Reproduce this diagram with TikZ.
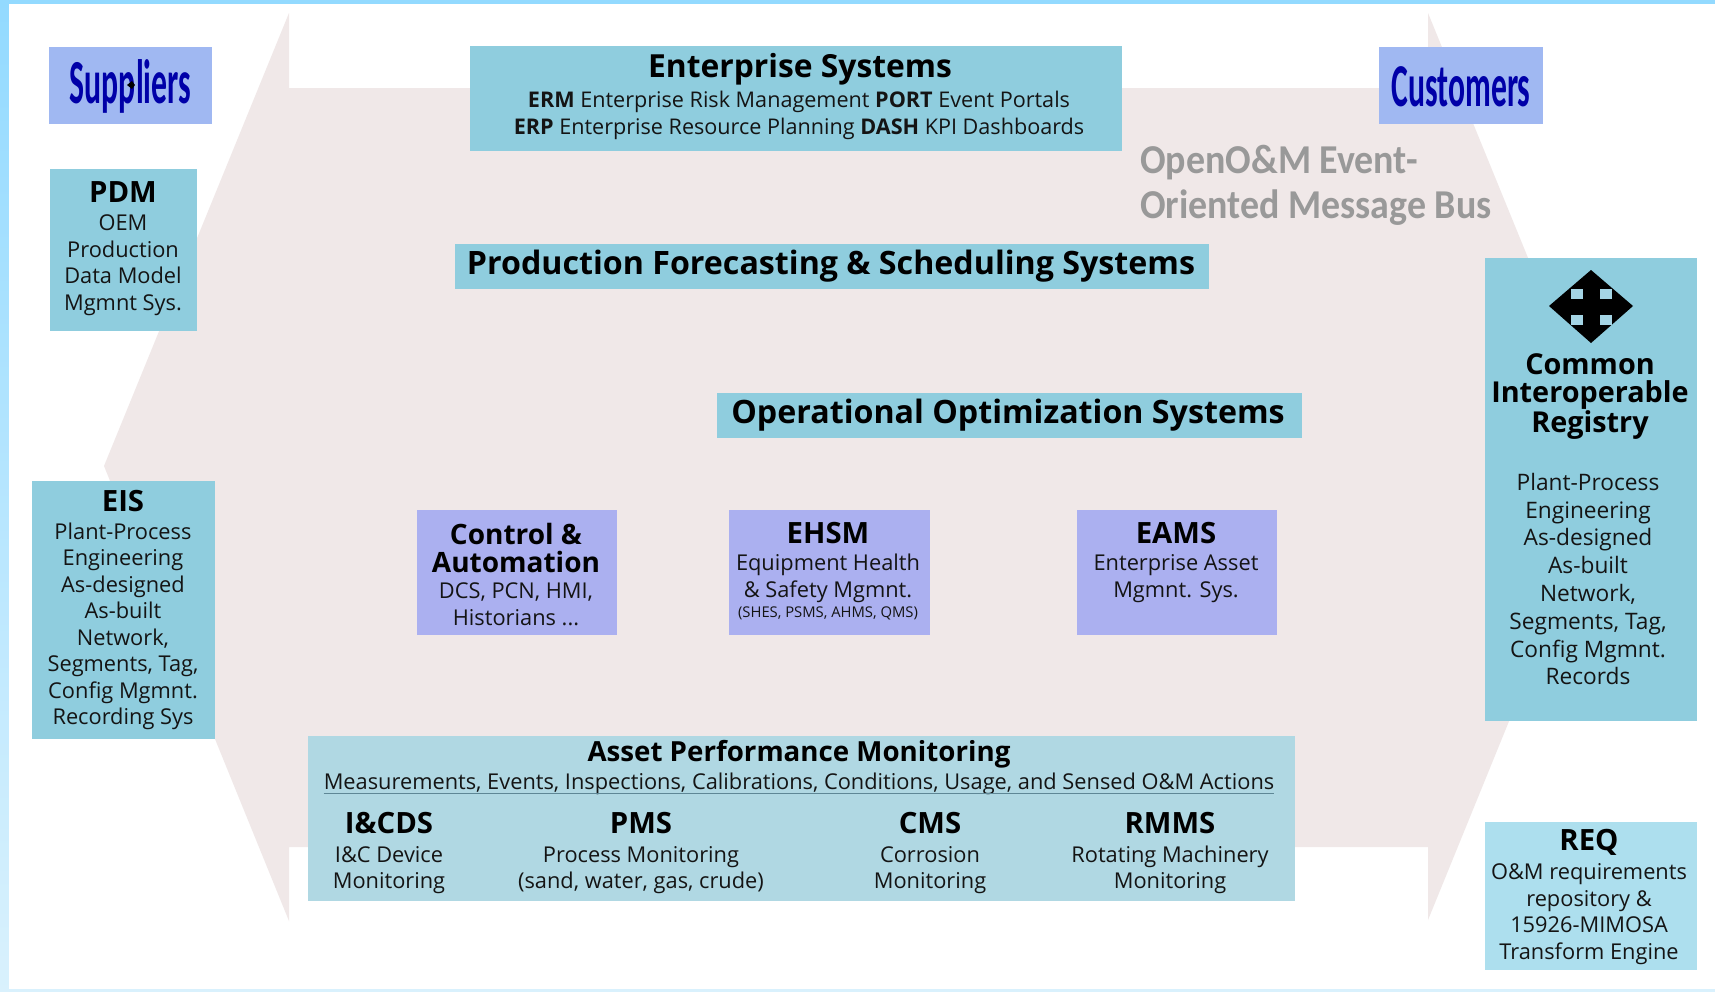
\documentclass[tikz,border=0pt]{standalone}
\usepackage{fontspec}
\setmainfont{Open Sans}
\newfontfamily\calib{Carlito}
\definecolor{boxteal}{HTML}{8FCDDE}
\definecolor{boxpale}{HTML}{B0D8E3}
\definecolor{boxsky}{HTML}{ADDFEE}
\definecolor{boxviolet}{HTML}{ABB0F0}
\definecolor{boxperi}{HTML}{A0B8F2}
\definecolor{busfill}{HTML}{F0E8E8}
\definecolor{edgeblue}{HTML}{93DAFF}
\definecolor{edgepale}{HTML}{D9F1FD}
\definecolor{inkblue}{HTML}{0000A8}
\definecolor{busgrey}{HTML}{999999}
\definecolor{rulegrey}{HTML}{5E8796}
\definecolor{iconpale}{HTML}{A5D5E5}
\newcommand{\fs}[2]{\fontsize{#1}{#2}\selectfont}
\newcommand{\bxx}[6]{\path[fill=#6] (#2,#3) rectangle (#4,#5) node[midway,inner sep=0pt] (#1) {};}
\tikzset{
  x=1pt,y=-1pt,
  body/.style={inner sep=0pt,align=center,text=black!92,font=\fs{21.8}{26.5}},
  ttl/.style={inner sep=0pt,align=center,text=black,font=\bfseries\fs{29.3}{27.5}},
  big/.style={inner sep=0pt,align=center,text=black,font=\bfseries\fs{32.2}{34}},
  brand/.style={inner sep=0pt,text=inkblue,font=\calib\bfseries\fs{58}{58}},
  bus/.style={inner sep=0pt,align=left,text=busgrey,font=\calib\bfseries\fs{41}{45}}
}
\begin{document}
\begin{tikzpicture}
\useasboundingbox (0,0) rectangle (1715,991);
\shade[top color=edgeblue,bottom color=edgepale] (0,0) rectangle (1715,991);
\fill[white] (9,4) rectangle (1715,989);
\fill[busfill] (104,466) -- (289,13) -- (289,88) -- (1428,88) -- (1428,13) -- (1613,466) -- (1428,920) -- (1428,847) -- (289,847) -- (289,921) -- cycle;
\bxx{sup}{49}{47}{212}{124}{boxperi}
\bxx{cus}{1379}{47}{1543}{124}{boxperi}
\bxx{pdm}{50}{169}{197}{331}{boxteal}
\bxx{eis}{32}{481}{215}{739}{boxteal}
\bxx{es}{470}{46}{1122}{151}{boxteal}
\bxx{pf}{455}{244}{1209}{289}{boxteal}
\bxx{oo}{717}{393}{1302}{438}{boxteal}
\bxx{ca}{417}{510}{617}{635}{boxviolet}
\bxx{eh}{729}{510}{930}{635}{boxviolet}
\bxx{ea}{1077}{510}{1277}{635}{boxviolet}
\bxx{apm}{308}{736}{1295}{901}{boxpale}
\bxx{cir}{1485}{258}{1697}{721}{boxteal}
\bxx{req}{1485}{822}{1697}{970}{boxsky}
% brand labels
\node[brand,xscale=.547,yscale=1.08] (tsup) at (130.5,86) {Suppliers};
\node[brand,xscale=.546,yscale=1.05] (tcus) at (1461,87) {Customers};
\fill[black] (127,85) -- (132,81) -- (135,85) -- (132,89) -- cycle;
% bus label
\node[bus,anchor=north west,xscale=.925] (tbus) at (1140,145) {OpenO\&M Event-\\Oriented Message Bus};
% enterprise
\node[ttl,font=\bfseries\fs{31.8}{30}] (tes) at (800,69) {Enterprise Systems};
\node[body,font=\fs{21.6}{27}] (bes) at (799,115) {\textbf{ERM} Enterprise Risk Management \textbf{PORT} Event Portals\\\textbf{ERP} Enterprise Resource Planning \textbf{DASH} KPI Dashboards};
\node[big] (tpf) at (831,266) {Production Forecasting \& Scheduling Systems};
\node[big] (too) at (1008,415) {Operational Optimization Systems};
% PDM
\node[ttl] (tpdm) at (123,192) {PDM};
\node[body] (bpdm) at (123,265) {OEM\\Production\\Data Model\\Mgmnt Sys.};
% EIS
\node[ttl] (teis) at (123,501) {EIS};
\node[body] (beis) at (123,626.5) {Plant-Process\\Engineering\\As-designed\\As-built\\Network,\\Segments, Tag,\\Config Mgmnt.\\Recording Sys};
% violet
\node[ttl,font=\bfseries\fs{28}{27.9}] (tca) at (516,548) {Control \&\\Automation};
\node[body] (bca) at (516,604.5) {DCS, PCN, HMI,\\Historians ...};
\node[ttl] (teh) at (828,533.5) {EHSM};
\node[body] (beh) at (828,578.5) {Equipment Health\\\& Safety Mgmnt.};
\node[body,font=\fs{14.8}{16}] (seh) at (828,613) {(SHES, PSMS, AHMS, QMS)};
\node[ttl] (tea) at (1176,533.5) {EAMS};
\node[body] (bea) at (1176,578.5) {Enterprise Asset\\Mgmnt. Sys.};
% APM
\node[ttl,font=\bfseries\fs{27.7}{27.5}] (tapm) at (799,754) {Asset Performance Monitoring};
\node[body] (bapm) at (799,784) {Measurements, Events, Inspections, Calibrations, Conditions, Usage, and Sensed O\&M Actions};
\draw[rulegrey,line width=1pt] (bapm.south west) ++(0,-1.5) -- ([yshift=1.5pt]bapm.south east);
\node[ttl] (tic) at (389,823) {I\&CDS};
\node[body] (bic) at (389,870) {I\&C Device\\Monitoring};
\node[ttl] (tpm) at (641,823) {PMS};
\node[body] (bpm) at (641,870) {Process Monitoring\\(sand, water, gas, crude)};
\node[ttl] (tcm) at (930,823) {CMS};
\node[body] (bcm) at (930,870) {Corrosion\\Monitoring};
\node[ttl] (trm) at (1170,823) {RMMS};
\node[body] (brm) at (1170,870) {Rotating Machinery\\Monitoring};
% CIR
\path[fill=black] (1591,270) -- (1633,306) -- (1591,343) -- (1549,306) -- cycle;
\foreach \a/\b in {1571/289,1600/289,1571/315,1600/315}
  \fill[iconpale] (\a,\b) rectangle ++(11.5,9.5);
\node[ttl,font=\bfseries\fs{28.8}{27.7}] (tcir) at (1590,396.5) {Common\\Interoperable\\Registry};
\node[body,font=\fs{22.7}{27.8}] (bcir) at (1588,579) {Plant-Process\\Engineering\\As-designed\\As-built\\Network,\\Segments, Tag,\\Config Mgmnt.\\Records};
% REQ
\node[ttl] (treq) at (1589,842) {REQ};
\node[body] (breq) at (1589,914) {O\&M requirements\\repository \&\\15926-MIMOSA\\Transform Engine};
\end{tikzpicture}
\end{document}
